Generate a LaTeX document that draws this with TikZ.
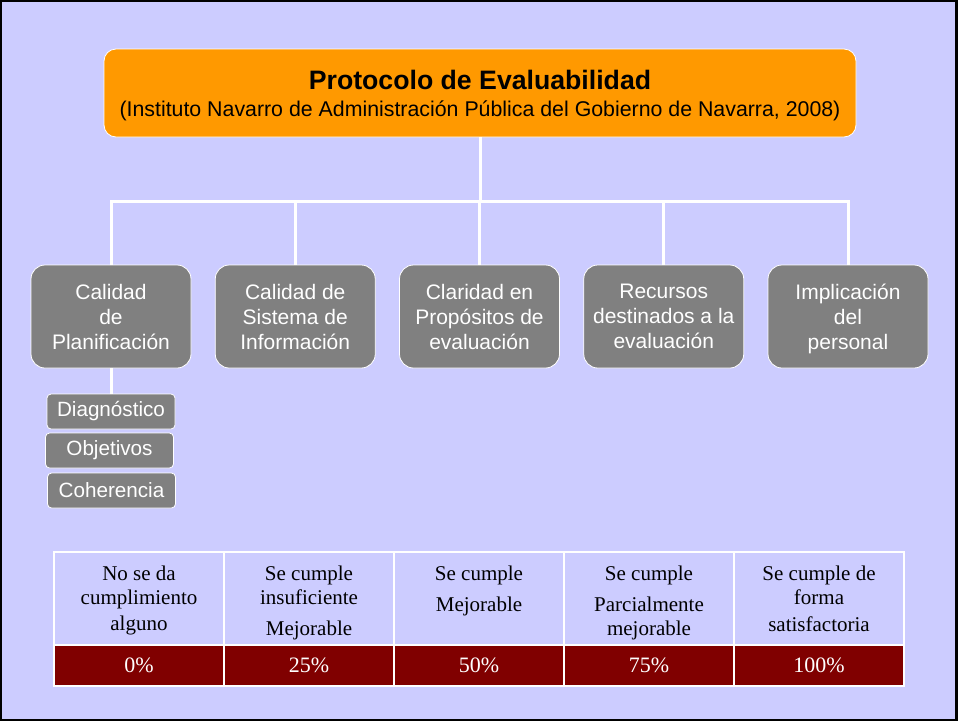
\documentclass[tikz,border=0pt]{standalone}
\usepackage{fontspec}
\setmainfont{Liberation Sans}
\newfontfamily\tablefont{Liberation Serif}
\usetikzlibrary{positioning}
\definecolor{PaleLilac}{HTML}{CCCCFF}
\definecolor{TitleOrange}{HTML}{FF9900}
\definecolor{BoxGray}{HTML}{808080}
\definecolor{DarkMaroon}{HTML}{800000}

\tikzset{
  titlebox/.style={draw=white, fill=TitleOrange, rounded corners=9pt, line width=0.6pt,
                   minimum width=564pt, minimum height=66pt, align=center, inner sep=0pt,
                   text depth=0pt, font=\fontsize{16}{20.25}\selectfont},
  branch/.style={draw=white, fill=BoxGray, rounded corners=10.5pt, line width=0.6pt,
                 minimum width=120pt, minimum height=77.25pt, align=center, text=white,
                 text depth=0pt, font=\fontsize{15.75}{18.75}\selectfont},
  subitem/.style={draw=white, fill=BoxGray, rounded corners=3pt, line width=0.6pt,
                  minimum width=96pt, minimum height=26.25pt, text=white, inner sep=0pt,
                  font=\fontsize{15.5}{18}\selectfont},
  link/.style={draw=white, line width=2.25pt},
  headcell/.style={draw=white, fill=PaleLilac, line width=1.2pt,
                   minimum width=127.5pt, minimum height=69.75pt},
  ratecell/.style={draw=white, fill=DarkMaroon, line width=1.2pt, text=white,
                   minimum width=127.5pt, minimum height=30.75pt,
                   font=\tablefont\fontsize{16.5}{18}\selectfont},
  headtext/.style={align=center, inner sep=0pt, anchor=north,
                   font=\tablefont\fontsize{15.75}{18}\selectfont}
}

\begin{document}
\begin{tikzpicture}[x=0.75pt, y=-0.75pt]
  % slide frame
  \useasboundingbox (0,0) rectangle (958,722);
  \draw[fill=PaleLilac, line width=1.6pt] (1,1) rectangle (956.5,720);

  % title
  \node[titlebox] (title) at (480,93) {%
    {\fontsize{20}{20.25}\selectfont\bfseries Protocolo de Evaluabilidad}\\
    (Instituto Navarro de Administración Pública del Gobierno de Navarra, 2008)};

  % criteria
  \node[branch] (plan) at (111,316.5)    {Calidad\\de\\Planificación};
  \node[branch] (info) at (295.25,316.5) {Calidad de\\Sistema de\\Información};
  \node[branch] (prop) at (479.5,316.5)  {Claridad en\\Propósitos de\\evaluación};
  \node[branch] (recu) at (663.75,316.5) {Recursos\\destinados a la\\evaluación};
  \node[branch] (pers) at (848,316.5)    {Implicación\\del\\personal};

  \coordinate (bus) at (480,201);
  \draw[link] (title.south) -- (bus);
  \foreach \b in {plan,info,prop,recu,pers}
    \draw[link] (\b.north) |- (bus);

  % sub-items of planning
  \node[subitem] (diag) at (111,411.5)   {Diagnóstico};
  \node[subitem] (obje) at (109.5,450.5) {Objetivos};
  \node[subitem] (cohe) at (111.5,490.5) {Coherencia};
  \draw[link] (plan.south) -- (diag.north);

  % rating scale
  \foreach \i/\x/\r in {1/139/0\%, 2/309/25\%, 3/479/50\%, 4/649/75\%, 5/819/100\%} {
    \node[headcell] (h\i) at (\x,598.5) {};
    \node[ratecell] (p\i) at (\x,665.5) {\r};
  }
  \node[headtext] (t1) at (139,566) {No se da\\cumplimiento\\[1.5pt]alguno};
  \node[headtext] (t2) at (309,566) {Se cumple\\insuficiente\\[5.25pt]Mejorable};
  \node[headtext] (t3) at (479,566) {Se cumple\\[5.25pt]Mejorable};
  \node[headtext] (t4) at (649,566) {Se cumple\\[5.25pt]Parcialmente\\mejorable};
  \node[headtext] (t5) at (819,566) {Se cumple de\\forma\\[2.25pt]satisfactoria};
\end{tikzpicture}
\end{document}
